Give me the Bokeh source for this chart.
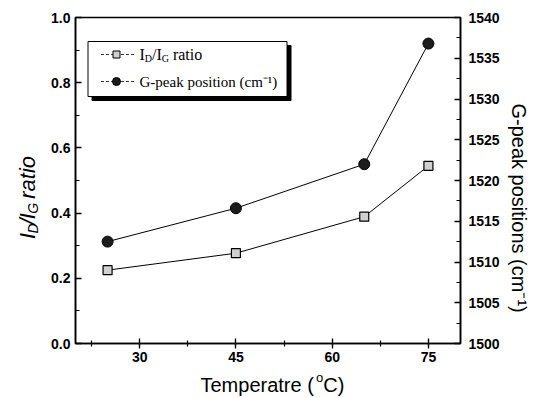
import math
from bokeh.plotting import figure
from bokeh.layouts import row, column
from bokeh.models import Range1d, LinearAxis, SingleIntervalTicker, NumeralTickFormatter
from bokeh.core.properties import value
from bokeh.embed import file_html
from bokeh.resources import INLINE

# ---- data ----
temperature = [25, 45, 65, 75]
id_ig_ratio = [0.225, 0.277, 0.389, 0.545]
g_peak_position = [1512.5, 1516.6, 1522.0, 1536.8]

x_tick_interval = 15
left_tick_interval = 0.2
right_tick_interval = 5
X0, X1 = 20, 80
Y0, Y1 = 0.0, 1.0
G0, G1 = 1500, 1540

right_title = "G-peak positions (cm⁻¹)"
legend_g = "G-peak position (cm⁻¹)"

# ---- layout (canvas pixels) ----
TOTAL_W, TOTAL_H = 543, 398
LW = 46                               # left strip (vertical title)
ML, FW, MR = 29, 385, 45              # main figure: left border, frame, right border
MW = ML + FW + MR
RW = TOTAL_W - LW - MW                # right strip (vertical title)
FT, FH, MB = 17, 326, 25
MH = FT + FH + MB
BH = TOTAL_H - MH                     # bottom strip (x title)
PFL = LW + ML                         # frame left, canvas px
PFB = FT + FH                         # frame bottom, canvas px


def dx(px):
    return X0 + (px - PFL) / FW * (X1 - X0)


def dy(py):
    return Y0 + (PFB - py) / FH * (Y1 - Y0)


p = figure(width=MW, height=MH, x_range=Range1d(X0, X1), y_range=Range1d(Y0, Y1),
           output_backend="svg", toolbar_location=None, title=None,
           min_border_left=ML, min_border_right=MR, min_border_top=FT, min_border_bottom=MB)
p.extra_y_ranges = {"g": Range1d(G0, G1)}
p.xgrid.visible = False
p.ygrid.visible = False
p.outline_line_color = "black"
p.outline_line_width = 1.5

TICK_FONT = "Liberation Sans"


def style_axis(ax, tin, tout, mtin, mtout, standoff):
    ax.major_tick_in = tin
    ax.major_tick_out = tout
    ax.minor_tick_in = mtin
    ax.minor_tick_out = mtout
    ax.major_tick_line_width = 1.3
    ax.minor_tick_line_width = 1.2
    ax.axis_line_width = 1.6
    ax.axis_line_color = "black"
    ax.major_tick_line_color = "black"
    ax.minor_tick_line_color = "black"
    ax.major_label_text_font = TICK_FONT
    ax.major_label_text_font_style = "bold"
    ax.major_label_text_font_size = "14px"
    ax.major_label_text_color = "black"
    ax.major_label_standoff = standoff


xa = p.xaxis[0]
xa.ticker = SingleIntervalTicker(interval=x_tick_interval, num_minor_ticks=2)
style_axis(xa, 5, 5, 3, 3, 3)

ya = p.yaxis[0]
ya.ticker = SingleIntervalTicker(interval=left_tick_interval, num_minor_ticks=2)
ya.formatter = NumeralTickFormatter(format="0.0")
style_axis(ya, 6, 0, 4, 0, 5)

ra = LinearAxis(y_range_name="g")
ra.ticker = SingleIntervalTicker(interval=right_tick_interval, num_minor_ticks=2)
style_axis(ra, 6, 0, 4, 0, 8)
p.add_layout(ra, "right")

# ---- data series ----
p.line(temperature, id_ig_ratio, line_color="black", line_width=1)
p.scatter(temperature, id_ig_ratio, marker="square", size=9, fill_color="#d0d0d0",
          line_color="black", line_width=1.2)
p.line(temperature, g_peak_position, y_range_name="g", line_color="black", line_width=1)
p.scatter(temperature, g_peak_position, y_range_name="g", marker="circle", size=11,
          fill_color="#1c1c1c", line_color="black", line_width=1)

# ---- hand-made legend (with drop shadow), canvas coordinates ----
bx0, by0, bx1, by1 = 87.5, 41, 286.5, 96
sh = 4
p.quad(left=[dx(bx0 + sh)], right=[dx(bx1 + sh)], top=[dy(by0 + sh)], bottom=[dy(by1 + sh)],
       fill_color="black", line_color="black")
p.quad(left=[dx(bx0)], right=[dx(bx1)], top=[dy(by0)], bottom=[dy(by1)],
       fill_color="white", line_color="black", line_width=1)

rows_y = [54, 81]
lx0, lx1, mx, tx = 100.5, 133.5, 116, 139
for ry in rows_y:
    p.line([dx(lx0), dx(lx1)], [dy(ry), dy(ry)], line_color="black", line_width=0.8,
           line_dash="3 2")
p.scatter([dx(mx)], [dy(rows_y[0])], marker="square", size=7, fill_color="#d0d0d0",
          line_color="black", line_width=1)
p.scatter([dx(mx)], [dy(rows_y[1])], marker="circle", size=8, fill_color="#1c1c1c",
          line_color="black", line_width=1)

SERIF = "Liberation Serif"
SANS = "Liberation Sans"


def add_text(fig, x, y, text, size, font, style="normal", angle=0.0, align="left",
             baseline="middle"):
    fig.text(x=[x], y=[y], text=[text], text_font=value(font),
             text_font_size=value(f"{size}px"), text_font_style=value(style),
             text_color="black", angle=angle, text_align=value(align),
             text_baseline=value(baseline))


# (text, font size, vertical offset, advance incl. following space)
pieces1 = [("I", 16, 0, 5.3), ("D", 10, 4, 7.2), ("/", 16, 0, 4.4), ("I", 16, 0, 5.3),
           ("G", 10, 4, 7.2 + 4.0), ("ratio", 16, 0, 29.3)]
cx = tx
for t, s, off, w in pieces1:
    add_text(p, dx(cx), dy(rows_y[0] + off), t, s, SERIF)
    cx += w
add_text(p, dx(tx), dy(rows_y[1]), legend_g, 15, SERIF)


# ---- strips for titles (coordinates = strip pixels, y measured from strip bottom) ----
def strip(width, height):
    f = figure(width=width, height=height, x_range=Range1d(0, width),
               y_range=Range1d(0, height), output_backend="svg", toolbar_location=None,
               title=None, x_axis_location=None, y_axis_location=None, min_border=0,
               min_border_left=0, min_border_right=0, min_border_top=0,
               min_border_bottom=0)
    f.xgrid.visible = False
    f.ygrid.visible = False
    f.outline_line_color = None
    return f


left = strip(LW, MH)
# I_D/I_G ratio, rotated, italic
base_x, sub_x = 27, 32
cy = 250
pieces_l = [("I", 22, False, 6.1), ("D", 14, True, 10.1), ("/", 22, False, 6.1),
            ("I", 22, False, 6.1), ("G", 14, True, 10.9 + 6.1), ("ratio", 22, False, 42.8)]
for t, s, sub, w in pieces_l:
    add_text(left, sub_x if sub else base_x, MH - cy, t, s, SANS, style="italic",
             angle=math.pi / 2)
    cy -= w

right = strip(RW, MH)
add_text(right, 518 - (LW + MW), MH - 97, right_title, 20, SANS, angle=-math.pi / 2)

bottom = strip(TOTAL_W, BH)
tm = TOTAL_H - 384                    # text middle, from strip bottom
tx0 = 200
add_text(bottom, tx0, tm, "Temperatre (", 20, SANS)
add_text(bottom, tx0 + 115.6, tm + 7, "o", 13, SANS)
add_text(bottom, tx0 + 115.6 + 7.2, tm, "C)", 20, SANS)

layout = column(row(left, p, right, spacing=0), bottom, spacing=0)
open("out.html", "w").write(file_html(layout, INLINE))
